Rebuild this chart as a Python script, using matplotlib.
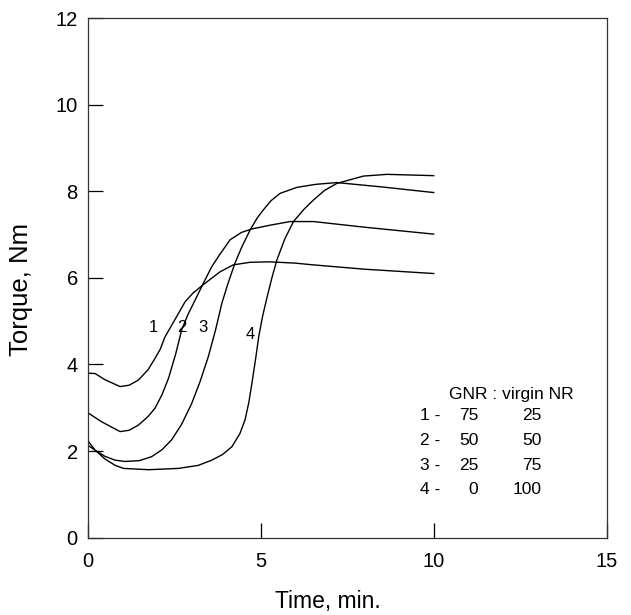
import matplotlib
matplotlib.use('Agg')
import matplotlib.pyplot as plt

plt.rcParams['font.family'] = ['Liberation Sans', 'DejaVu Sans']

# curve 1 : GNR 75 / virgin NR 25
t1 = [0, 0.22, 0.5, 0.94, 1.2, 1.47, 1.75, 1.95, 2.1, 2.24, 2.5, 2.82, 3.05, 3.34, 3.83, 4.21, 4.7, 5.27, 6.0, 6.52, 8.0, 10.0]
m1 = [3.80, 3.79, 3.65, 3.49, 3.52, 3.64, 3.88, 4.14, 4.35, 4.64, 5.00, 5.45, 5.65, 5.84, 6.14, 6.30, 6.36, 6.37, 6.34, 6.30, 6.20, 6.10]

# curve 2 : 50 / 50
t2 = [0, 0.4, 0.94, 1.2, 1.47, 1.75, 1.95, 2.15, 2.34, 2.55, 2.72, 2.9, 3.11, 3.35, 3.59, 3.83, 4.12, 4.45, 4.75, 5.3, 5.85, 6.53, 8.0, 10.0]
m2 = [2.89, 2.68, 2.45, 2.48, 2.60, 2.80, 2.99, 3.30, 3.68, 4.25, 4.80, 5.15, 5.49, 5.88, 6.26, 6.55, 6.88, 7.05, 7.13, 7.22, 7.30, 7.30, 7.17, 7.01]

# curve 3 : 25 / 75
t3 = [0, 0.22, 0.5, 0.8, 1.08, 1.5, 1.85, 2.15, 2.43, 2.72, 3.01, 3.25, 3.49, 3.7, 3.88, 4.05, 4.26, 4.45, 4.7, 4.9, 5.08, 5.3, 5.56, 6.05, 6.6, 7.2, 8.5, 10.0]
m3 = [2.14, 2.02, 1.88, 1.79, 1.76, 1.78, 1.87, 2.03, 2.26, 2.62, 3.10, 3.60, 4.18, 4.80, 5.41, 5.85, 6.34, 6.70, 7.11, 7.38, 7.57, 7.78, 7.95, 8.09, 8.16, 8.20, 8.10, 7.97]

# curve 4 : 0 / 100
t4 = [0, 0.22, 0.5, 0.8, 1.04, 1.76, 2.63, 3.2, 3.59, 3.9, 4.17, 4.4, 4.55, 4.66, 4.76, 4.86, 4.95, 5.06, 5.18, 5.32, 5.47, 5.7, 5.95, 6.25, 6.53, 6.85, 7.2, 7.97, 8.65, 10.0]
m4 = [2.25, 2.02, 1.82, 1.67, 1.60, 1.57, 1.60, 1.67, 1.79, 1.92, 2.10, 2.40, 2.72, 3.12, 3.62, 4.15, 4.66, 5.12, 5.53, 5.98, 6.41, 6.90, 7.30, 7.58, 7.80, 8.02, 8.18, 8.35, 8.39, 8.36]

curve_ids = ['1', '2', '3', '4']
gnr = ['75', '50', '25', '0']
virgin = ['25', '50', '75', '100']

fig = plt.figure(figsize=(6.31, 6.15), dpi=100)
ax = fig.add_axes([0.1387, 0.1257, 0.8228, 0.845])

for t, m in [(t1, m1), (t2, m2), (t3, m3), (t4, m4)]:
    ax.plot(t, m, color='black', lw=1.0)

ax.set_xlim(0, 15)
ax.set_ylim(0, 12)
ax.set_xticks([0, 5, 10, 15])
ax.set_yticks([0, 2, 4, 6, 8, 10, 12])
ax.tick_params(direction='in', length=11, width=0.9, labelsize=14.5, colors='black')
ax.tick_params(axis='x', pad=10)
ax.tick_params(axis='y', pad=7)
for s in ax.spines.values():
    s.set_linewidth(0.9)
    s.set_color('#333333')

ax.set_xlabel('Time, min.', fontsize=16.5)
ax.xaxis.set_label_coords(0.463, -0.1)
ax.set_ylabel('Torque, Nm', fontsize=18.5)
ax.yaxis.set_label_coords(-0.105, 0.477)

# curve labels
lab_x = [1.9, 2.73, 3.34, 4.7]
lab_y = [4.86, 4.86, 4.86, 4.70]
for cid, x, y in zip(curve_ids, lab_x, lab_y):
    ax.text(x, y, cid, fontsize=12, ha='center', va='center')

# composition table
ax.text(10.43, 3.21, 'GNR : virgin NR', fontsize=12.5, ha='left', va='baseline')
row_y = [2.72, 2.14, 1.56, 1.02]
for cid, g, v, y in zip(curve_ids, gnr, virgin, row_y):
    ax.text(9.61, y, cid + ' -', fontsize=12.5, ha='left', va='baseline')
    ax.text(11.29, y, g, fontsize=12.5, ha='right', va='baseline')
    ax.text(13.13, y, v, fontsize=12.5, ha='right', va='baseline')

fig.savefig('out.png', dpi=100)
